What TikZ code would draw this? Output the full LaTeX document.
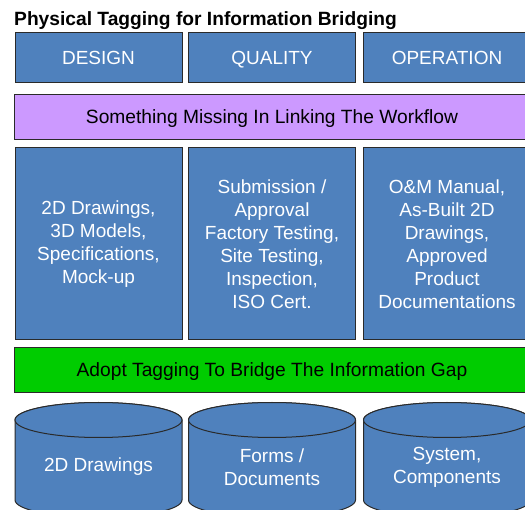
\documentclass[tikz,border=0pt]{standalone}
\usepackage{fontspec}
\setmainfont{Liberation Sans}
\definecolor{boxblue}{HTML}{4F81BD}
\definecolor{barpurple}{HTML}{CC99FF}
\definecolor{bargreen}{HTML}{00CC00}
\definecolor{edge}{HTML}{2A2A2A}
\tikzset{
  cell/.style={draw=edge, line width=1pt, fill=boxblue, text=white, align=center,
    font=\fontsize{19}{23}\selectfont, inner sep=0pt},
  topcell/.style={cell, minimum width=167pt, minimum height=50pt, text height=13.6pt, text depth=0pt},
  midcell/.style={cell, minimum width=167pt, minimum height=192pt},
  bar/.style={draw=edge, line width=1pt, text=black, minimum width=516pt,
    minimum height=45pt, font=\fontsize{19.2}{23}\selectfont, inner sep=0pt,
    text height=13.6pt, text depth=0pt},
  cyl/.style={draw=edge, line width=1pt, fill=boxblue},
  cyltext/.style={text=white, align=center, font=\fontsize{19}{23}\selectfont, inner sep=0pt},
}
\begin{document}
\begin{tikzpicture}[x=1pt,y=-1pt]
\useasboundingbox (0,0) rectangle (525,510);
\clip (0,0) rectangle (525,510);
\fill[white] (0,0) rectangle (525,510);
\node[anchor=base west, font=\fontsize{19.2}{22}\selectfont\bfseries, inner sep=0pt] (title) at (14,26) {Physical Tagging for Information Bridging};
% row 1
\node[topcell] (design) at (98.5,58) {DESIGN};
\node[topcell] (quality) at (272,58) {QUALITY};
\node[topcell] (operation) at (447,58) {OPERATION};
% purple bar
\node[bar, fill=barpurple] (missing) at (272,117) {Something Missing In Linking The Workflow};
% row 3
\node[midcell] (designdocs) at (98.5,244) {2D Drawings,\\3D Models,\\Specifications,\\Mock-up};
\node[midcell] (qualitydocs) at (272,244) {Submission /\\Approval\\Factory Testing,\\Site Testing,\\Inspection,\\ISO Cert.};
\node[midcell] (operationdocs) at (447,244) {O\&M Manual,\\As-Built 2D\\Drawings,\\Approved\\Product\\Documentations};
% green bar
\node[bar, fill=bargreen] (adopt) at (272,370) {Adopt Tagging To Bridge The Information Gap};
% cylinders
\foreach \cx in {98.5,272,447}{
  \path[cyl] (\cx-83.5,420) -- (\cx-83.5,500) arc (180:0:83.5 and 17.5) -- (\cx+83.5,420) arc (0:-180:83.5 and 17.5) -- cycle;
  \draw[cyl] (\cx,420) ellipse (83.5 and 17.5);
}
\node[cyltext] (drawdb) at (98.5,467) {2D Drawings};
\node[cyltext] (formdb) at (272,467) {Forms /\\Documents};
\node[cyltext] (sysdb) at (447,467) {System,\\Components};
\end{tikzpicture}
\end{document}
